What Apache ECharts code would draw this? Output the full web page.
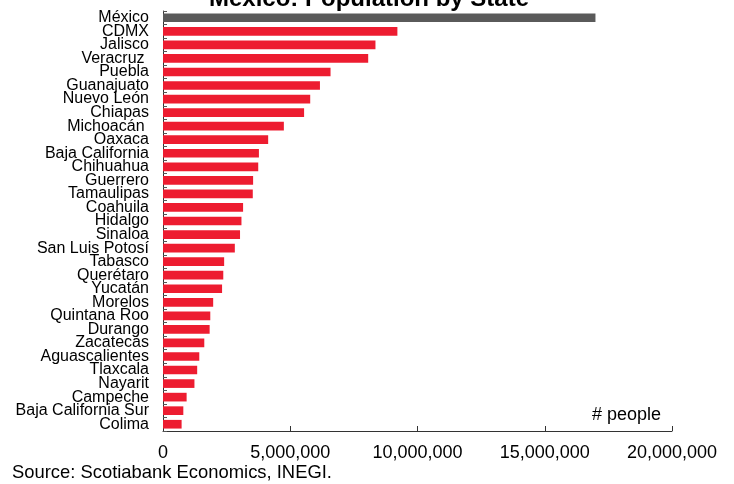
<!DOCTYPE html>
<html><head><meta charset="utf-8">
<script src="https://cdn.jsdelivr.net/npm/echarts@6/dist/echarts.min.js"></script>
<style>html,body{margin:0;padding:0;background:#fff}#c{width:734px;height:484px}</style>
</head><body><div id="c"></div>
<script>
const states = ["México","CDMX","Jalisco","Veracruz ","Puebla","Guanajuato","Nuevo León","Chiapas","Michoacán ","Oaxaca","Baja California","Chihuahua","Guerrero","Tamaulipas","Coahuila","Hidalgo","Sinaloa","San Luis Potosí","Tabasco","Querétaro","Yucatán","Morelos","Quintana Roo","Durango","Zacatecas","Aguascalientes","Tlaxcala","Nayarit","Campeche","Baja California Sur","Colima"];
const population = [16992418,9209944,8348151,8062579,6583278,6166934,5784442,5543828,4748846,4132148,3769020,3741869,3540685,3527735,3146771,3082841,3026943,2822255,2402598,2368467,2320898,1971520,1857985,1832650,1622138,1425607,1342977,1235456,928363,798447,731391];
const xTicks = [0,5000000,10000000,15000000,20000000];
const highlight = "México";

const chart = echarts.init(document.getElementById('c'));
const font = 'Arial, "Liberation Sans", sans-serif';
chart.setOption({
  animation:false,
  title:{text:'Mexico: Population by State',left:364,textAlign:'center',top:-18,
    textStyle:{fontFamily:font,fontSize:24,fontWeight:'bold',color:'#000'}},
  grid:{left:163,right:62,top:11,bottom:53,containLabel:false},
  xAxis:{type:'value',min:xTicks[0],max:xTicks[xTicks.length-1],interval:xTicks[1]-xTicks[0],
    splitLine:{show:false},
    axisLine:{show:true,lineStyle:{color:'#333',width:1}},
    axisTick:{show:true,inside:true,length:5,lineStyle:{color:'#333'}},
    axisLabel:{fontFamily:font,fontSize:18,color:'#000',margin:13,
      formatter:v=>v.toLocaleString('en-US')}},
  yAxis:{type:'category',inverse:true,data:states,
    axisLine:{show:true,lineStyle:{color:'#333',width:1}},
    axisTick:{show:true,inside:true,length:4,lineStyle:{color:'#555'}},
    axisLabel:{fontFamily:font,fontSize:16,color:'#000',margin:14,interval:0,lineHeight:14}},
  graphic:[
    {type:'text',left:592,top:406,style:{text:'# people',font:'18px '+font,fill:'#000'}},
    {type:'text',left:12,top:464,style:{text:'Source: Scotiabank Economics, INEGI.',font:'18.4px '+font,fill:'#000'}}
  ],
  series:[{type:'bar',barCategoryGap:'36%',
    data:population.map((v,i)=>({value:v,itemStyle:{color:states[i]===highlight?'#5a5a5a':'#ED1C30'}}))}]
});
</script></body></html>
